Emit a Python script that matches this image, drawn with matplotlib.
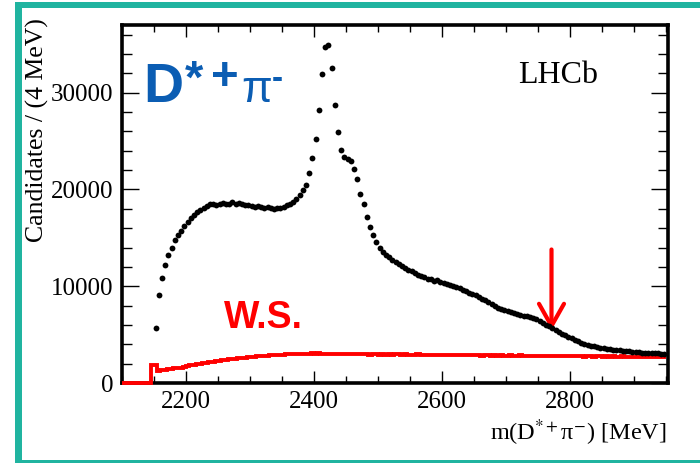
import numpy as np
import matplotlib
matplotlib.use('Agg')
import matplotlib.pyplot as plt
from matplotlib.patches import Rectangle
from matplotlib.ticker import MultipleLocator

# D*+ pi- candidates, 5 MeV bins starting at 2150 MeV (bin centres)
counts = [
    5700, 9100, 10900, 12200, 13250, 13950, 14800, 15250, 15700, 16250,
    16650, 17100, 17400, 17650, 17900, 18050, 18300, 18450, 18550, 18350,
    18500, 18600, 18450, 18550, 18700, 18500, 18650, 18450, 18400, 18350,
    18300, 18200, 18250, 18150, 18100, 18150, 18050, 18000, 18050, 18100,
    18200, 18350, 18550, 18750, 19050, 19450, 19900, 20500, 21700, 23300,
    25200, 28200, 31900, 34700, 34900, 32600, 28700, 25900, 24100, 23400,
    23200, 22900, 22100, 21100, 19500, 18500, 17150, 16100, 15300, 14600,
    14000, 13550, 13250, 13000, 12750, 12550, 12300, 12100, 11900, 11700,
    11550, 11350, 11200, 11100, 10950, 10800, 10700, 10550, 10600, 10450,
    10350, 10200, 10100, 10000, 9900, 9800, 9600, 9500, 9350, 9250,
    9100, 8900, 8700, 8550, 8350, 8150, 7950, 7750, 7600, 7550,
    7450, 7350, 7250, 7150, 7050, 6950, 6900, 6800, 6750, 6600,
    6400, 6200, 6000, 5850, 5650, 5500, 5300, 5100, 4950, 4800,
    4650, 4450, 4300, 4150, 4050, 3950, 3850, 3800, 3700, 3650,
    3600, 3550, 3500, 3450, 3450, 3400, 3350, 3350, 3300, 3250,
    3250, 3200, 3150, 3150, 3100, 3100, 3050, 3050, 3000, 2950,
]

# wrong-sign histogram, 5 MeV bins from 2100 MeV
ws = [
    0, 0, 0, 0, 0, 0, 0, 0, 0, 1850,
    1850, 1250, 1300, 1350, 1400, 1450, 1500, 1550, 1600, 1700,
    1800, 1850, 1900, 1950, 2000, 2050, 2100, 2150, 2200, 2250,
    2300, 2350, 2400, 2450, 2500, 2500, 2550, 2600, 2600, 2650,
    2700, 2700, 2750, 2750, 2800, 2800, 2850, 2850, 2900, 2900,
    2900, 2950, 2950, 2950, 3000, 2950, 3000, 3000, 3000, 3050,
    3000, 3050, 3000, 3000, 3000, 2950, 3000, 2950, 3000, 2950,
    2950, 3000, 2950, 2950, 3000, 2950, 2950, 2900, 2950, 2950,
    2900, 2950, 2900, 2950, 2900, 2950, 2950, 2900, 2950, 2900,
    2900, 2900, 2950, 2900, 2900, 2850, 2900, 2900, 2850, 2900,
    2900, 2850, 2900, 2850, 2900, 2850, 2850, 2900, 2850, 2850,
    2850, 2850, 2800, 2850, 2850, 2800, 2850, 2800, 2850, 2800,
    2800, 2850, 2800, 2800, 2850, 2800, 2800, 2750, 2800, 2800,
    2800, 2750, 2800, 2800, 2750, 2800, 2750, 2750, 2800, 2750,
    2750, 2750, 2800, 2750, 2700, 2750, 2750, 2700, 2750, 2750,
    2700, 2750, 2700, 2750, 2700, 2700, 2750, 2700, 2700, 2700,
    2700, 2650, 2700, 2700, 2650, 2700, 2650, 2650, 2700, 2650,
]

mass = 2152.5 + 5 * np.arange(len(counts))
ws_edges = 2100 + 5 * np.arange(len(ws) + 1)

arrow_mass = 2771
arrow_top, arrow_tip = 13800, 5450

plt.rcParams['font.family'] = 'Liberation Serif'
plt.rcParams['mathtext.fontset'] = 'stix'

W, H = 700, 463
blue = '#0B5DB3'
teal = '#20B4A0'

fig = plt.figure(figsize=(W / 100, H / 100), dpi=100)

# teal frame around the slide
for x0, y0, x1, y1 in [(15, 1.5, 700, 8.3), (15, 1.5, 21.7, 463), (15, 459.5, 700, 463)]:
    fig.patches.append(Rectangle((x0 / W, 1 - y1 / H), (x1 - x0) / W, (y1 - y0) / H,
                                 transform=fig.transFigure, color=teal, lw=0))

ax = fig.add_axes([122 / W, 1 - 383 / H, (668 - 122) / W, (383 - 25) / H])

ax.stairs(ws, ws_edges, baseline=None, color='red', lw=2.8, zorder=3, clip_on=False)
ax.plot(mass, counts, 'o', color='black', ms=4.2, mec='none', zorder=4)

ax.annotate('', xy=(arrow_mass, arrow_tip), xytext=(arrow_mass, arrow_top),
            arrowprops=dict(arrowstyle='->,head_length=0.8,head_width=0.45',
                            mutation_scale=20, color='red', lw=3, shrinkA=0, shrinkB=0))

ax.set_xlim(2100, 2953)
ax.set_ylim(0, 37000)
ax.set_xticks([2200, 2400, 2600, 2800])
ax.set_yticks([0, 10000, 20000, 30000])
ax.xaxis.set_minor_locator(MultipleLocator(50))
ax.yaxis.set_minor_locator(MultipleLocator(2000))
ax.tick_params(which='both', direction='in', top=True, right=True, width=1,
               labelsize=18, pad=6)
ax.tick_params(axis='y', which='major', length=12)
ax.tick_params(axis='y', which='minor', length=7)
ax.tick_params(axis='x', which='major', length=8.5)
ax.tick_params(axis='x', which='minor', length=5)
for s in ax.spines.values():
    s.set_linewidth(2.6)

fig.text(37 / W, 1 - 18 / H, 'Candidates / (4 MeV)', rotation=90,
         ha='center', va='top', size=18.5)
fig.text(667 / W, 1 - 440 / H, 'm(D$^{*+}$π$^{-}$) [MeV]', ha='right',
         va='baseline', size=17.5)
fig.text(518 / W, 1 - 83 / H, 'LHCb', size=23, ha='left', va='baseline')

# big D*+ pi- label
sans = 'Liberation Sans'
fig.text(143 / W, 1 - 102 / H, 'D', size=40, weight='bold', color=blue, family=sans)
fig.text(185 / W, 1 - 93 / H, '*', size=34, weight='bold', color=blue, family=sans)
fig.text(211 / W, 1 - 90 / H, '+', size=34, weight='bold', color=blue, family=sans)
fig.text(241 / W, 1 - 102 / H, 'π', size=32, color=blue, family=sans)
fig.text(272 / W, 1 - 88 / H, '-', size=24, weight='bold', color=blue, family=sans)

fig.text(224 / W, 1 - 328 / H, 'W.S.', size=27, weight='bold', color='red', family=sans)

fig.savefig('out.png', dpi=100)
